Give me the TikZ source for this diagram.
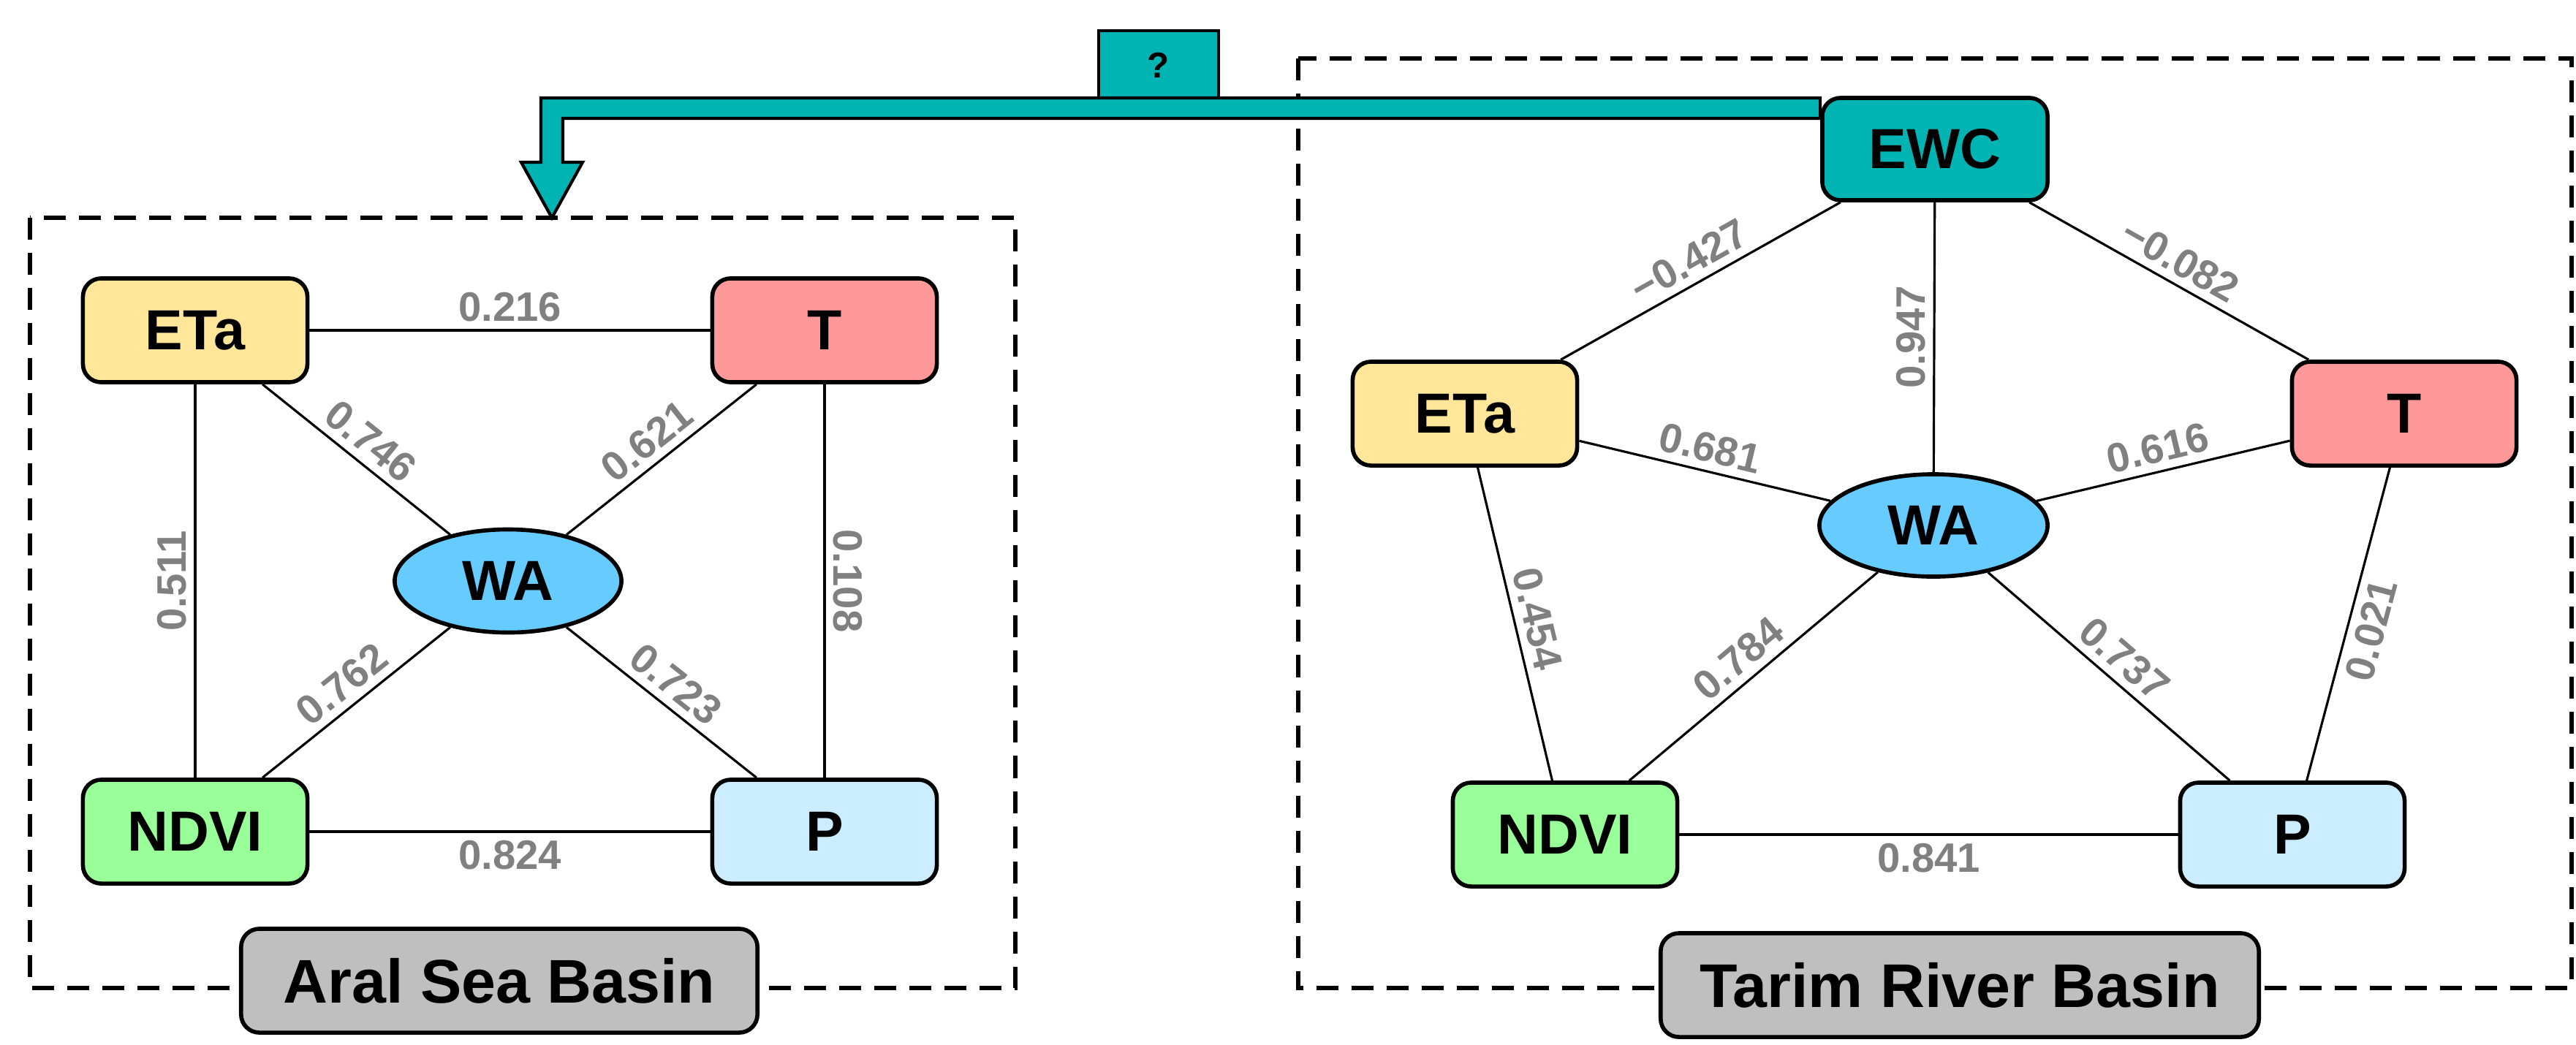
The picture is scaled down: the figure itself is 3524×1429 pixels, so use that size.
\documentclass[tikz,border=0pt]{standalone}
\usepackage{fontspec}
\setmainfont{Liberation Sans}
\usetikzlibrary{shapes.geometric}
\definecolor{cEta}{HTML}{FFE699}
\definecolor{cT}{HTML}{FF9999}
\definecolor{cN}{HTML}{99FF99}
\definecolor{cP}{HTML}{CCECFF}
\definecolor{cWA}{HTML}{66CCFF}
\definecolor{cEWC}{HTML}{00B4B4}
\definecolor{cG}{HTML}{BFBFBF}
\definecolor{cLab}{HTML}{808080}
\begin{document}
\begin{tikzpicture}[x=0.01cm,y=-0.01cm,
  box/.style={draw=black,line width=1.6pt,rounded corners=0.25cm,minimum width=3.07cm,minimum height=1.42cm,inner sep=0pt,font=\fontsize{22}{24}\selectfont\bfseries},
  wa/.style={ellipse,draw=black,line width=1.6pt,fill=cWA,minimum width=3.1cm,minimum height=1.41cm,inner sep=0pt,font=\fontsize{22}{24}\selectfont\bfseries},
  basin/.style={draw=black,line width=1.6pt,fill=cG,rounded corners=0.25cm,minimum height=1.42cm,inner sep=0pt,font=\fontsize{24}{26}\selectfont\bfseries},
  edge/.style={line width=0.9pt},
  lab/.style={text=cLab,font=\fontsize{16}{18}\selectfont\bfseries,sloped,inner sep=3pt},
  dbox/.style={draw=black,line width=1.8pt,dash pattern=on 0.3cm off 0.18cm}]
\useasboundingbox (0,0) rectangle (3524,1429);
% dashed frames
\draw[dbox] (41,298) rectangle (1389,1352);
\draw[dbox] (1776,80) rectangle (3518,1352);
% question box
\node[draw=black,line width=1.2pt,fill=cEWC,minimum width=1.64cm,minimum height=0.95cm,inner sep=0pt,anchor=north,font=\fontsize{14}{16}\selectfont\bfseries] (q) at (1585,40) {?};
% left graph
\node[box,fill=cEta] (lE) at (267,452) {ETa};
\node[box,fill=cT] (lT) at (1128,452) {T};
\node[box,fill=cN] (lN) at (267,1138) {NDVI};
\node[box,fill=cP] (lP) at (1128,1138) {P};
\node[wa] (lW) at (695,795) {WA};
\draw[edge] (lE) -- node[lab,above]{0.216} (lT);
\draw[edge] (lE) -- node[lab,above]{0.746} (lW);
\draw[edge] (lW) -- node[lab,above]{0.621} (lT);
\draw[edge] (lN) -- node[lab,above]{0.511} (lE);
\draw[edge] (lT) -- node[lab,above]{0.108} (lP);
\draw[edge] (lN) -- node[lab,above]{0.762} (lW);
\draw[edge] (lW) -- node[lab,above]{0.723} (lP);
\draw[edge] (lN) -- node[lab,below]{0.824} (lP);
% right graph
\node[box,fill=cEWC,minimum width=3.08cm,minimum height=1.4cm] (rC) at (2647,204) {EWC};
\node[box,fill=cEta] (rE) at (2004,566) {ETa};
\node[box,fill=cT] (rT) at (3289,566) {T};
\node[box,fill=cN] (rN) at (2141,1142) {NDVI};
\node[box,fill=cP] (rP) at (3136,1142) {P};
\node[wa,minimum width=3.12cm,minimum height=1.4cm] (rW) at (2645,719) {WA};
\draw[edge] (rE) -- node[lab,above]{−0.427} (rC);
\draw[edge] (rC) -- node[lab,above]{−0.082} (rT);
\draw[edge] (rC) -- node[lab,above]{0.947} (rW);
\draw[edge] (rE) -- node[lab,above]{0.681} (rW);
\draw[edge] (rW) -- node[lab,above]{0.616} (rT);
\draw[edge] (rE) -- node[lab,above]{0.454} (rN);
\draw[edge] (rN) -- node[lab,above]{0.784} (rW);
\draw[edge] (rW) -- node[lab,above]{0.737} (rP);
\draw[edge] (rP) -- node[lab,below]{0.021} (rT);
\draw[edge] (rN) -- node[lab,below]{0.841} (rP);
% arrow from EWC to Aral box
\coordinate (tip) at (755,298);
\draw[line width=1.2pt,fill=cEWC,line join=miter]
  (rC.west |- 0,134) -- (740,134) -- (740,222) -- (713,222) -- (tip) -- (797,222) -- (770,222) -- (770,162) -- (rC.west |- 0,162) -- cycle;
% basin labels
\node[basin,minimum width=7.06cm] (aral) at (683,1342) {Aral Sea Basin};
\node[basin,minimum width=8.18cm] (tarim) at (2681,1348) {Tarim River Basin};
\end{tikzpicture}
\end{document}
